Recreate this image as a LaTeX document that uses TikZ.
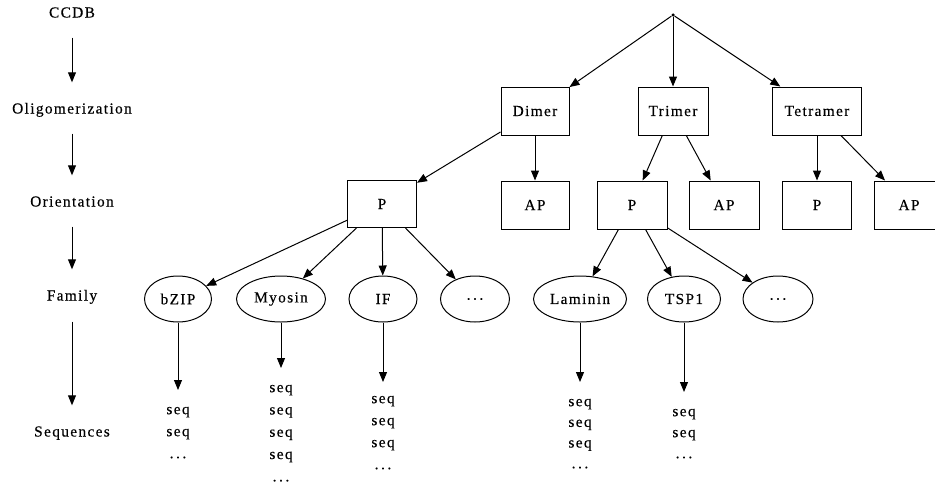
\documentclass[tikz,border=0pt]{standalone}
\usepackage{fontspec}
\setmainfont{Liberation Serif}[LetterSpace=9, FakeBold=0.3]
\usetikzlibrary{shapes.geometric,arrows.meta}
\begin{document}
\begin{tikzpicture}[x=1pt,y=-1pt,
  every node/.style={font=\fontsize{15.3}{22}\selectfont},
  lbl/.style={inner sep=0pt, text height=10pt, text depth=3pt},
  box/.style={draw, line width=1pt, rectangle, inner sep=0pt, minimum height=48pt},
  fam/.style={draw, line width=1pt, ellipse, inner sep=0pt, minimum height=46pt},
  seqs/.style={align=center, inner sep=0pt, anchor=north},
  arr/.style={draw, line width=1pt, -{Triangle[length=10pt,width=8pt]}},
  stepar/.style={arr, shorten <=17pt, shorten >=21pt},
  dot/.style={circle, fill, inner sep=0pt, minimum size=3.5pt}
]
\useasboundingbox (0,0) rectangle (935,483);
\fill[white] (0,0) rectangle (935,483);

% left column
\node[lbl] (ccdb) at (72,14) {CCDB};
\node[lbl] (olig) at (72,110) {Oligomerization};
\node[lbl] (orient) at (72,203) {Orientation};
\node[lbl] (family) at (72,297) {Family};
\node[lbl] (seqlbl) at (72,433) {Sequences};
\draw[stepar] (ccdb) -- (olig);
\draw[stepar] (olig) -- (orient);
\draw[stepar] (orient) -- (family);
\draw[stepar, shorten <=18pt] (family) -- (seqlbl);

% tree
\node[dot] (root) at (673,15) {};
\node[box, minimum width=68pt] (dimer) at (535,111) {Dimer};
\node[box, minimum width=70pt] (trimer) at (673,111) {Trimer};
\node[box, minimum width=89pt] (tetramer) at (817,111) {Tetramer};

\node[box, minimum width=69pt, minimum height=47pt] (dp) at (382,204) {P};
\node[box, minimum width=68pt] (dap) at (535,205) {AP};
\node[box, minimum width=70pt] (tp) at (632,205) {P};
\node[box, minimum width=70pt] (tap) at (724,205) {AP};
\node[box, minimum width=69pt] (qp) at (817,205) {P};
\node[box, minimum width=70pt] (qap) at (909,205) {AP};

\draw[arr] (root) -- (dimer);
\draw[arr] (root) -- (trimer);
\draw[arr] (root) -- (tetramer);
\draw[arr] (dimer) -- (dp);
\draw[arr] (dimer) -- (dap);
\draw[arr] (trimer) -- (tp);
\draw[arr] (trimer) -- (tap);
\draw[arr] (tetramer) -- (qp);
\draw[arr] (tetramer) -- (qap);

% families
\node[fam, minimum width=67pt] (bzip) at (178,299) {bZIP};
\node[fam, minimum width=89pt] (myosin) at (281,299) {Myosin};
\node[fam, minimum width=68pt] (if) at (383,299) {IF};
\node[fam, minimum width=69pt] (dots1) at (475,299) {.\,.\,.};
\node[fam, minimum width=93pt] (laminin) at (580,299) {Laminin};
\node[fam, minimum width=73pt] (tsp) at (684,299) {TSP1};
\node[fam, minimum width=70pt] (dots2) at (778,299) {.\,.\,.};

\draw[arr] (dp) -- (bzip);
\draw[arr] (dp) -- (myosin);
\draw[arr] (dp) -- (if);
\draw[arr] (dp) -- (dots1);
\draw[arr] (tp) -- (laminin);
\draw[arr] (tp) -- (tsp);
\draw[arr] (tp) -- (dots2);

% sequences
\coordinate (bzipt) at (178,390);
\coordinate (myot) at (281,368);
\coordinate (ift) at (383,382);
\coordinate (lamt) at (580,382);
\coordinate (tspt) at (684,392);
\draw[arr] (bzip) -- (bzipt);
\draw[arr] (myosin) -- (myot);
\draw[arr] (if) -- (ift);
\draw[arr] (laminin) -- (lamt);
\draw[arr] (tsp) -- (tspt);

\node[seqs, font=\fontsize{15.3}{22}\selectfont] (bzips) at (178,406.6) {seq\\seq\\.\,.\,.};
\node[seqs, font=\fontsize{15.3}{22.3}\selectfont] (myos) at (281,384.6) {seq\\seq\\seq\\seq\\.\,.\,.};
\node[seqs, font=\fontsize{15.3}{22}\selectfont] (ifs) at (383,395.6) {seq\\seq\\seq\\.\,.\,.};
\node[seqs, font=\fontsize{15.3}{20.7}\selectfont] (lams) at (580,398.6) {seq\\seq\\seq\\.\,.\,.};
\node[seqs, font=\fontsize{15.3}{21}\selectfont] (tsps) at (684,408.6) {seq\\seq\\.\,.\,.};
\end{tikzpicture}
\end{document}
